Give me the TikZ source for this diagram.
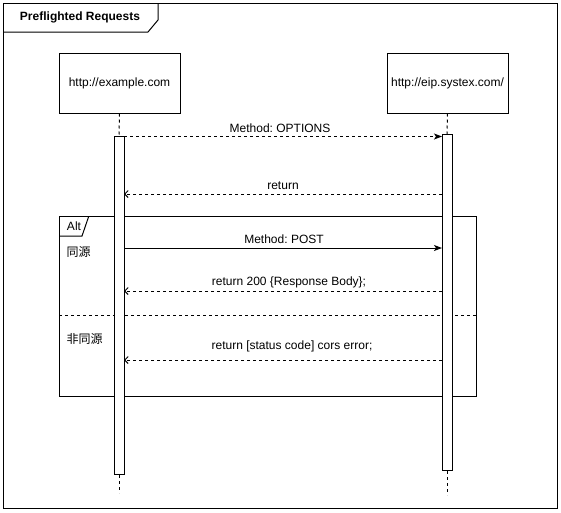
\documentclass[tikz,border=0pt]{standalone}
\usepackage{fontspec}
\setmainfont{Liberation Sans}
\newfontfamily\cjk{Noto Sans CJK SC}
\usetikzlibrary{arrows.meta}
\frenchspacing
\begin{document}
\frenchspacing
\begin{tikzpicture}[x=1pt,y=-1pt, line width=1pt,
  font=\fontsize{12}{14}\selectfont,
  every node/.style={inner sep=0pt},
  lbox/.style={draw, minimum width=121pt, minimum height=60pt},
  actbar/.style={draw, fill=white, minimum width=10pt, anchor=north},
  life/.style={dash pattern=on 3pt off 3pt},
  sync/.style={-{Stealth[length=8pt,width=6pt,inset=2pt]}},
  syncd/.style={dash pattern=on 3pt off 3pt, -{Stealth[length=8pt,width=6pt,inset=2pt]}},
  reply/.style={dash pattern=on 3pt off 3pt, -{Straight Barb[length=3.5pt,width=7pt]}},
  lbl/.style={anchor=center}
]
\useasboundingbox (0,0) rectangle (561,512);
% outer frame
\draw (3,3) rectangle (557,508);
\draw (3,32) -- (148,32) -- (158,20) -- (158,3);
\node[font=\fontsize{12}{14}\selectfont\bfseries] (title) at (80,17) {Preflighted Requests};

% participants
\node[lbox] (p1) at (119.5,83) {http://example.com};
\node[lbox] (p2) at (447.5,83) {http://eip.systex.com/};

% alt frame
\draw (59,216) rectangle (476,396);
\draw (59,236) -- (82,236) -- (88.5,217) -- (88.5,216);
\node (alt) at (74,226) {Alt};
\node[anchor=west, font=\fontsize{12}{14}\selectfont\cjk] (c1) at (66,252) {同源};
\node[anchor=west, font=\fontsize{12}{14}\selectfont\cjk] (c2) at (66,339) {非同源};
\draw[dash pattern=on 3pt off 3pt] (59,315.5) -- (476,315.5);

% activation bars
\node[actbar, minimum height=338pt] (a1) at (119,136) {};
\node[actbar, minimum height=336pt] (a2) at (447,134) {};

% lifelines
\coordinate (e1) at (119,493);
\coordinate (e2) at (447,495);
\draw[life] (p1.south) -- (a1.north);
\draw[life] (p2.south) -- (a2.north);
\draw[life] (a1.south) -- (e1);
\draw[life] (a2.south) -- (e2);

% message endpoints
\coordinate (m1s) at (124,136.5); \coordinate (m1e) at (442,136.5);
\coordinate (m2s) at (442,194);   \coordinate (m2e) at (124,194);
\coordinate (m3s) at (124,248);   \coordinate (m3e) at (442,248);
\coordinate (m4s) at (442,291);   \coordinate (m4e) at (124,291);
\coordinate (m5s) at (442,360);   \coordinate (m5e) at (124,360);

\draw[syncd] (m1s) -- (m1e);
\draw[reply] (m2s) -- (m2e);
\draw[sync]  (m3s) -- (m3e);
\draw[reply] (m4s) -- (m4e);
\draw[reply] (m5s) -- (m5e);

\node[lbl] (l1) at (280,128) {Method: OPTIONS};
\node[lbl] (l2) at (283,186) {return};
\node[lbl] (l3) at (284,239) {Method: POST};
\node[lbl] (l4) at (289,282) {return 200 \{Response Body\};};
\node[lbl] (l5) at (292,346) {return [status code] cors error;};
\end{tikzpicture}
\end{document}
